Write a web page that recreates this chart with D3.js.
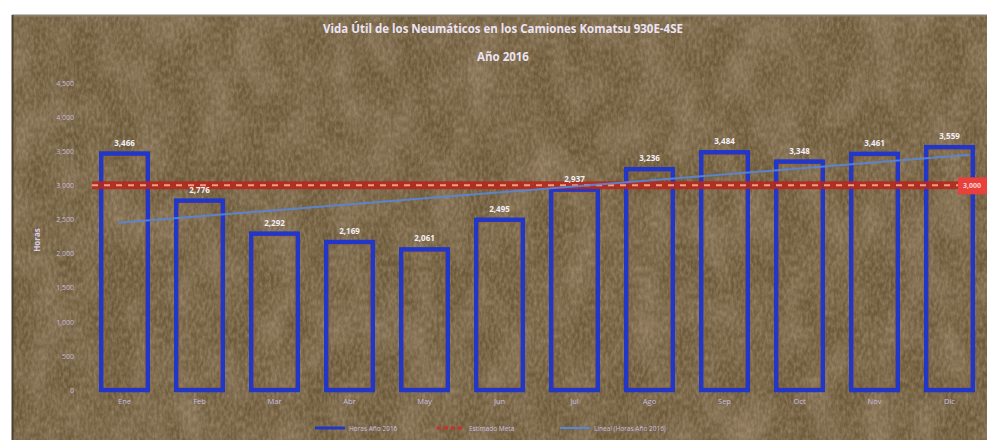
<!DOCTYPE html>
<html><head><meta charset="utf-8">
<script src="https://cdn.jsdelivr.net/npm/d3@7/dist/d3.min.js"></script>
<style>html,body{margin:0;padding:0;background:#fff;}svg{display:block;}</style>
</head><body>
<svg id="chart" width="987" height="440"></svg>
<script>
const titleLines = ["Vida Útil de los Neumáticos en los Camiones Komatsu 930E-4SE", "Año 2016"];
const months = ["Ene","Feb","Mar","Abr","May","Jun","Jul","Ago","Sep","Oct","Nov","Dic"];
const horas2016 = [3466, 2776, 2292, 2169, 2061, 2495, 2937, 3236, 3484, 3348, 3461, 3559];
const metaValue = 3000;
const yTicks = [0, 500, 1000, 1500, 2000, 2500, 3000, 3500, 4000, 4500];
const legendLabels = ["Horas Año 2016", "Estimado Meta", "Lineal (Horas Año 2016)"];
const yTitle = "Horas";

const svg = d3.select("#chart");
const W = 987, H = 440;
const defs = svg.append("defs");
const f = defs.append("filter").attr("id","tex").attr("x",0).attr("y",0).attr("width","100%").attr("height","100%");
f.append("feTurbulence").attr("type","fractalNoise").attr("baseFrequency","0.35 0.18").attr("numOctaves",2).attr("seed",7).attr("result","n");
f.append("feColorMatrix").attr("in","n").attr("type","matrix")
  .attr("values","0 0 0 0 0.55  0 0 0 0 0.46  0 0 0 0 0.30  0 0 0 1.2 -0.35");
const f2 = defs.append("filter").attr("id","tex2").attr("x",0).attr("y",0).attr("width","100%").attr("height","100%");
f2.append("feTurbulence").attr("type","fractalNoise").attr("baseFrequency","0.03 0.02").attr("numOctaves",2).attr("seed",3).attr("result","n");
f2.append("feColorMatrix").attr("in","n").attr("type","matrix")
  .attr("values","0 0 0 0 0.42  0 0 0 0 0.30  0 0 0 0 0.20  0 0 0 1.4 -0.5");

// background
svg.append("rect").attr("x",0).attr("y",0).attr("width",W).attr("height",H).attr("fill","#fff");
svg.append("rect").attr("x",12).attr("y",15).attr("width",W-12).attr("height",H-15).attr("fill","#6d5a3b");
svg.append("rect").attr("x",12).attr("y",15).attr("width",W-12).attr("height",H-15).attr("filter","url(#tex2)").attr("opacity",0.6);
svg.append("rect").attr("x",12).attr("y",15).attr("width",W-12).attr("height",H-15).attr("filter","url(#tex)").attr("opacity",0.55);
svg.append("line").attr("x1",12).attr("x2",W).attr("y1",15.5).attr("y2",15.5).attr("stroke","#8a8070").attr("stroke-width",2);
svg.append("line").attr("x1",12.5).attr("x2",12.5).attr("y1",15).attr("y2",H).attr("stroke","#4a4030").attr("stroke-width",2);

const x = d3.scaleBand().domain(months).range([87, 987]).paddingInner(0.38).paddingOuter(0.19);
const y = d3.scaleLinear().domain([0, 4500]).range([390, 83]);

// title
svg.append("g").selectAll("text").data(titleLines).join("text")
  .attr("x", 503).attr("y", (d,i)=> 33 + i*28)
  .attr("text-anchor","middle").attr("font-family","Open Sans, sans-serif").attr("font-weight","bold")
  .attr("font-size", 11.5).attr("fill","#ece4f4").text(d=>d);

// y axis labels
const yAxis = d3.axisLeft(y).tickValues(yTicks).tickFormat(d3.format(",")).tickSize(0).tickPadding(0);
const ya = svg.append("g").attr("transform","translate(74,0)").call(yAxis);
ya.select(".domain").remove();
ya.selectAll("text").attr("font-family","Open Sans, sans-serif").attr("font-size",7).attr("fill","#c9bcdc");
svg.append("text").attr("transform","translate(40,240) rotate(-90)").attr("text-anchor","middle")
  .attr("font-family","Open Sans, sans-serif").attr("font-size",8).attr("font-weight","bold").attr("fill","#d8cde6").text(yTitle);

// x axis labels
const xAxis = d3.axisBottom(x).tickSize(0).tickPadding(0);
const xa = svg.append("g").attr("transform","translate(0,399)").call(xAxis);
xa.select(".domain").remove();
xa.selectAll("text").attr("font-family","Open Sans, sans-serif").attr("font-size",7.5).attr("fill","#cbbfe0");

// bars (hollow)
const bars = svg.append("g");
bars.selectAll("rect.o").data(horas2016).join("rect").attr("class","o")
  .attr("x",(d,i)=>x(months[i])).attr("y",d=>y(d)).attr("width",x.bandwidth()).attr("height",d=>y(0)-y(d))
  .attr("fill","none").attr("stroke","#2236c8").attr("stroke-width",4.5);
bars.selectAll("rect.i").data(horas2016).join("rect").attr("class","i")
  .attr("x",(d,i)=>x(months[i])+3).attr("y",d=>y(d)+3).attr("width",x.bandwidth()-6).attr("height",d=>y(0)-y(d)-6)
  .attr("fill","none").attr("stroke","#a0602a").attr("stroke-width",1).attr("opacity",0.6);

// meta line
const metaY = y(metaValue);
svg.append("line").attr("x1",92).attr("x2",958).attr("y1",metaY).attr("y2",metaY)
  .attr("stroke","#b8261c").attr("stroke-width",8).attr("opacity",0.85);
svg.append("line").attr("x1",92).attr("x2",958).attr("y1",metaY).attr("y2",metaY)
  .attr("stroke","#f0a080").attr("stroke-width",2).attr("stroke-dasharray","6,6");
svg.append("rect").attr("x",958).attr("y",metaY-8).attr("width",29).attr("height",17).attr("fill","#e8403a");
svg.append("text").attr("x",972).attr("y",metaY+3).attr("text-anchor","middle")
  .attr("font-family","Open Sans, sans-serif").attr("font-size",7).attr("font-weight","bold").attr("fill","#ffd0d0").text(d3.format(",")(metaValue));

// linear trend (least squares of the series)
const n = horas2016.length;
const xs = d3.range(1, n+1);
const mx = d3.mean(xs), my = d3.mean(horas2016);
const slope = d3.sum(xs.map((v,i)=>(v-mx)*(horas2016[i]-my))) / d3.sum(xs.map(v=>(v-mx)*(v-mx)));
const icpt = my - slope*mx;
const cx = i => x(months[i]) + x.bandwidth()/2;
svg.append("line").attr("x1",cx(0)-6).attr("x2",cx(n-1)+20)
  .attr("y1",y(icpt+slope*(1-6/75))).attr("y2",y(icpt+slope*(n+20/75)))
  .attr("stroke","#5a86d8").attr("stroke-width",2).attr("opacity",0.9);

// data labels
svg.append("g").selectAll("text").data(horas2016).join("text")
  .attr("x",(d,i)=>cx(i)).attr("y",d=>y(d)-8)
  .attr("text-anchor","middle").attr("font-family","Open Sans, sans-serif").attr("font-weight","bold")
  .attr("font-size",8).attr("fill","#f4f0f8").text(d=>d3.format(",")(d));

// legend
const lg = svg.append("g").attr("transform","translate(0,428)");
const items = [
  {x:315, w:30, stroke:"#2236c8", sw:3, dash:null, label:legendLabels[0]},
  {x:437, w:28, stroke:"#c8302a", sw:3, dash:"4,3", label:legendLabels[1]},
  {x:560, w:30, stroke:"#5a86d8", sw:2, dash:null, label:legendLabels[2]}
];
items.forEach(it=>{
  lg.append("line").attr("x1",it.x).attr("x2",it.x+it.w).attr("y1",0).attr("y2",0)
    .attr("stroke",it.stroke).attr("stroke-width",it.sw).attr("stroke-dasharray",it.dash);
  lg.append("text").attr("x",it.x+it.w+4).attr("y",2.5).attr("font-family","Open Sans, sans-serif")
    .attr("font-size",6.5).attr("fill","#cbbfe0").text(it.label);
});
</script>
</body></html>
